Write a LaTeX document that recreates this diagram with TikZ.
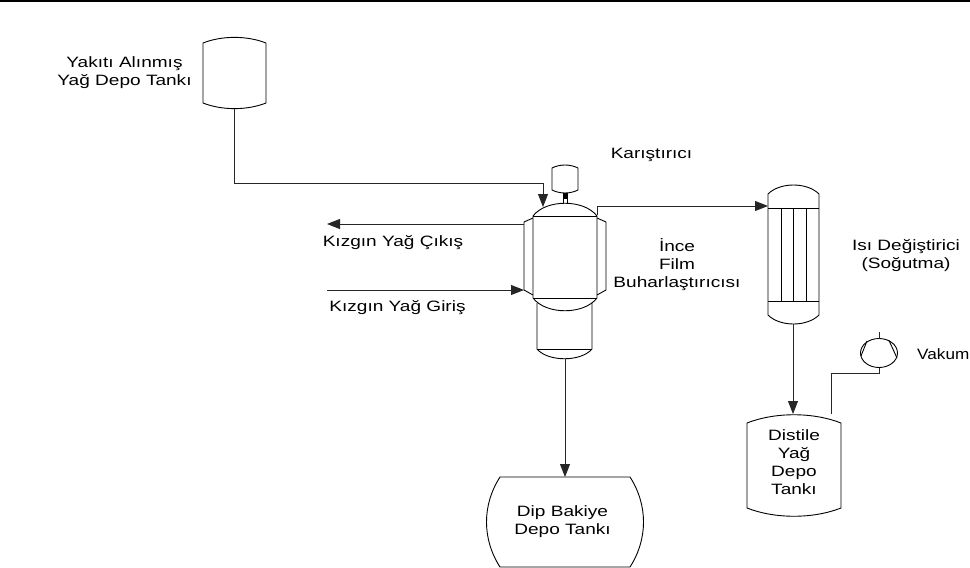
\documentclass[tikz,border=0pt]{standalone}
\usepackage{fontspec}
\setmainfont{Liberation Sans}
\usetikzlibrary{arrows.meta}
\tikzset{
  unit/.style={draw=black,line width=0.9pt,fill=none,line join=round},
  pipe/.style={draw=black!85,line width=0.9pt},
  flow/.style={pipe,-{Triangle[length=13pt,width=10pt]}},
  lbl/.style={inner sep=0pt,align=center,font=\fontsize{15}{18}\selectfont,xscale=1.27,transform shape,text=black}
}
\begin{document}
\begin{tikzpicture}[x=1pt,y=-1pt]
\useasboundingbox (0,0) rectangle (970,568);
\fill[black] (0,0) rectangle (970,2);
% named anchor points
\coordinate (feedOut) at (234,109);
\coordinate (feedBend) at (234,183);
\coordinate (feedCorner) at (543,183);
\coordinate (feedIn) at (543,207);
\coordinate (jackL1) at (524,224);
\coordinate (hotOut) at (327,224);
\coordinate (hotIn) at (327,290);
\coordinate (jackL2) at (524,290);
\coordinate (vapA) at (597,215);
\coordinate (vapB) at (597,206);
\coordinate (hxIn) at (768,206);
\coordinate (botOut) at (565,359);
\coordinate (dipIn) at (565,477);
\coordinate (hxOut) at (793,324);
\coordinate (disIn) at (793,414);
\coordinate (vacA) at (831,414);
\coordinate (vacB) at (831,373);
\coordinate (vacC) at (879,373);
\coordinate (pumpBot) at (879,367.5);
\coordinate (pumpTop) at (879,338.5);
\coordinate (pumpStub) at (879,332);
% feed tank
\draw[unit] (203,43) .. controls (222,35.5) and (247,35.5) .. (266,43) -- (266,103) .. controls (247,110.5) and (222,110.5) .. (203,103) -- cycle;
% agitator motor
\draw[unit] (552,168) .. controls (560,164) and (570,164) .. (578,168) -- (578,190) .. controls (570,194) and (560,194) .. (552,190) -- cycle;
\fill[black] (563,193) rectangle (567.5,199);
\draw[unit] (563.5,193) -- (563.5,204) (567,193) -- (567,204);
% evaporator
\draw[unit] (533,216) .. controls (546,199) and (584,199) .. (597,216) -- (597,298) .. controls (584,315) and (546,315) .. (533,298) -- cycle;
\draw[unit] (533,216) -- (597,216) (533,298) -- (597,298);
\draw[unit] (533,218) -- (524,222) -- (524,290) -- (533,295);
\draw[unit] (597,218) -- (606,222) -- (606,290) -- (597,295);
\draw[unit] (537,303) -- (537,349) .. controls (548,362) and (581,362) .. (592,349) -- (592,303);
\draw[unit] (537,349) -- (592,349);
% condenser
\draw[unit] (768,194) .. controls (780,182) and (807,182) .. (819,194) -- (819,315) .. controls (807,327) and (780,327) .. (768,315) -- cycle;
\draw[unit] (768,208) -- (819,208) (768,301) -- (819,301);
\draw[unit] (781,208) -- (781,301) (793.5,208) -- (793.5,301) (806,208) -- (806,301);
% distillate tank
\draw[unit] (747,423) .. controls (775,412) and (813,412) .. (841,423) -- (841,508) .. controls (813,519) and (775,519) .. (747,508) -- cycle;
% bottoms tank
\draw[unit] (500,477) -- (630,477) .. controls (648,505) and (648,539) .. (630,567) -- (500,567) .. controls (482,539) and (482,505) .. (500,477) -- cycle;
% vacuum pump
\draw[unit] (879,353) ellipse [x radius=18.5pt,y radius=14.5pt];
\draw[unit] (867,341) -- (861,356) (889,340.5) -- (897,358);
% connectors
\draw[pipe] (feedOut) -- (feedBend) -- (feedCorner);
\draw[flow] (feedCorner) -- (feedIn);
\draw[flow] (jackL1) -- (hotOut);
\draw[flow] (hotIn) -- (jackL2);
\draw[pipe] (vapA) -- (vapB);
\draw[flow] (vapB) -- (hxIn);
\draw[flow] (botOut) -- (dipIn);
\draw[flow] (hxOut) -- (disIn);
\draw[pipe] (vacA) -- (vacB) -- (vacC) -- (pumpBot);
\draw[pipe] (pumpTop) -- (pumpStub);
% labels
\node[lbl] (t1) at (124.5,73) {Yakıtı Alınmış\\Yağ Depo Tankı};
\node[lbl] (t2) at (651.5,155) {Karıştırıcı};
\node[lbl] (t3) at (393,243) {Kızgın Yağ Çıkış};
\node[lbl] (t4) at (397.5,308) {Kızgın Yağ Giriş};
\node[lbl] (t5) at (677,265) {İnce\\Film\\Buharlaştırıcısı};
\node[lbl] (t6) at (906,255.5) {Isı Değiştirici\\(Soğutma)};
\node[lbl,anchor=west,xscale=0.9] (t7) at (917,354) {Vakum};
\node[lbl] (t8) at (794,462.5) {Distile\\Yağ\\Depo\\Tankı};
\node[lbl] (t9) at (562.5,522) {Dip Bakiye\\Depo Tankı};
\end{tikzpicture}
\end{document}
